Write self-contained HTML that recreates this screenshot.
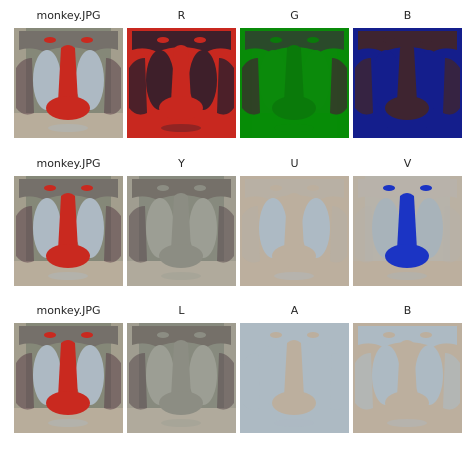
<!DOCTYPE html>
<html><head><meta charset="utf-8"><style>
body{margin:0;background:#fff;width:475px;height:449px;overflow:hidden}
svg{display:block}
text{font-family:"DejaVu Sans","Liberation Sans",sans-serif;font-size:11px;fill:#262626}
</style></head><body>
<svg id="fig" width="475" height="449"></svg>
<script>
const titles=[["monkey.JPG","R","G","B"],["monkey.JPG","Y","U","V"],["monkey.JPG","L","A","B"]];
const colX=[14,127,240,353];
const rowY=[28,176,323];
const NS="http://www.w3.org/2000/svg";
const svg=document.getElementById('fig');
function el(t,a,p){const e=document.createElementNS(NS,t);for(const k in a)e.setAttribute(k,a[k]);(p||svg).appendChild(e);return e;}
const orig={bg:"#858878",tan:"#b8ad9b",dark:"#5a4048",cheek:"#adb9c3",nose:"#c9291f",top:"#75706a",so:0.55};
const grayP={bg:"#878a7e",tan:"#b0aa9c",dark:"#5a4a4e",cheek:"#9c9e94",nose:"#8c8d83",top:"#757069",so:0.55};
const pal={
 "monkey.JPG":orig,
 R:{bg:"#c8281f",tan:"#c8281f",dark:"#3e1f2a",cheek:"#3e1f2a",nose:"#c8281f",top:"#3e1f2a",so:0.9},
 G:{bg:"#0a8a0a",tan:"#078c07",dark:"#3e2430",cheek:"#0b8a0b",nose:"#0a7a0a",top:"#2a4a2a",so:0.7},
 B:{bg:"#141e8c",tan:"#141e8c",dark:"#3e2430",cheek:"#141e8c",nose:"#3e2430",top:"#3e2430",so:0.8},
 Y:grayP,L:grayP,
 U:{bg:"#bcaf9e",tan:"#bcaf9e",dark:"#b3b0a6",cheek:"#adbac4",nose:"#bcaf9e",top:"#b8b0a4",so:0.5},
 V:{bg:"#b7b3aa",tan:"#bcaf9e",dark:"#b5b2aa",cheek:"#a8b3ba",nose:"#1b34c4",top:"#b8b2aa",so:0.5},
 A:{bg:"#adbac3",tan:"#adbac3",dark:"#adbac3",cheek:"#adbac3",nose:"#bcaf9e",top:"#adbac3",so:0.5},
 Bl:{bg:"#bcaf9e",tan:"#bcaf9e",dark:"#adbac3",cheek:"#adbac3",nose:"#bcaf9e",top:"#adbac3",so:0.6}
};
titles.forEach((row,r)=>row.forEach((t,c)=>{
 const x=colX[c],y=rowY[r];
 const tx=el('text',{x:x+54.5,y:y-9,'text-anchor':'middle'});
 tx.textContent=t;
 
 
 const p=(r==2&&c==3)?pal.Bl:pal[t];
 const g=el('g',{transform:`translate(${x},${y})`});
 
 
 el('rect',{x:0,y:0,width:109,height:110,fill:p.bg},g);
 el('rect',{x:0,y:85,width:109,height:25,fill:p.tan},g);
 el('rect',{x:0,y:0,width:12,height:110,fill:p.tan,opacity:0.6},g);
 el('rect',{x:97,y:0,width:12,height:110,fill:p.tan,opacity:0.6},g);
 el('path',{d:"M5 3 H104 V22 Q90 18 80 24 Q54 14 30 24 Q18 18 5 22Z",fill:p.top},g);
 el('path',{d:"M2 40 Q8 30 18 30 L20 85 Q10 90 2 80Z",fill:p.dark,opacity:p.so},g);
 el('path',{d:"M107 40 Q100 30 92 30 L90 85 Q100 90 107 80Z",fill:p.dark,opacity:p.so},g);
 el('ellipse',{cx:36,cy:12,rx:6,ry:3,fill:p.nose},g);
 el('ellipse',{cx:73,cy:12,rx:6,ry:3,fill:p.nose},g);
 el('ellipse',{cx:33,cy:52,rx:14,ry:30,fill:p.cheek},g);
 el('ellipse',{cx:76,cy:52,rx:14,ry:30,fill:p.cheek},g);
 el('path',{d:"M47 20 Q54 14 61 20 L64 74 L44 74Z",fill:p.nose},g);
 el('ellipse',{cx:54,cy:80,rx:22,ry:12,fill:p.nose},g);
 el('ellipse',{cx:54,cy:100,rx:20,ry:4,fill:p.cheek,opacity:0.4},g);
}));
</script>
</body></html>
